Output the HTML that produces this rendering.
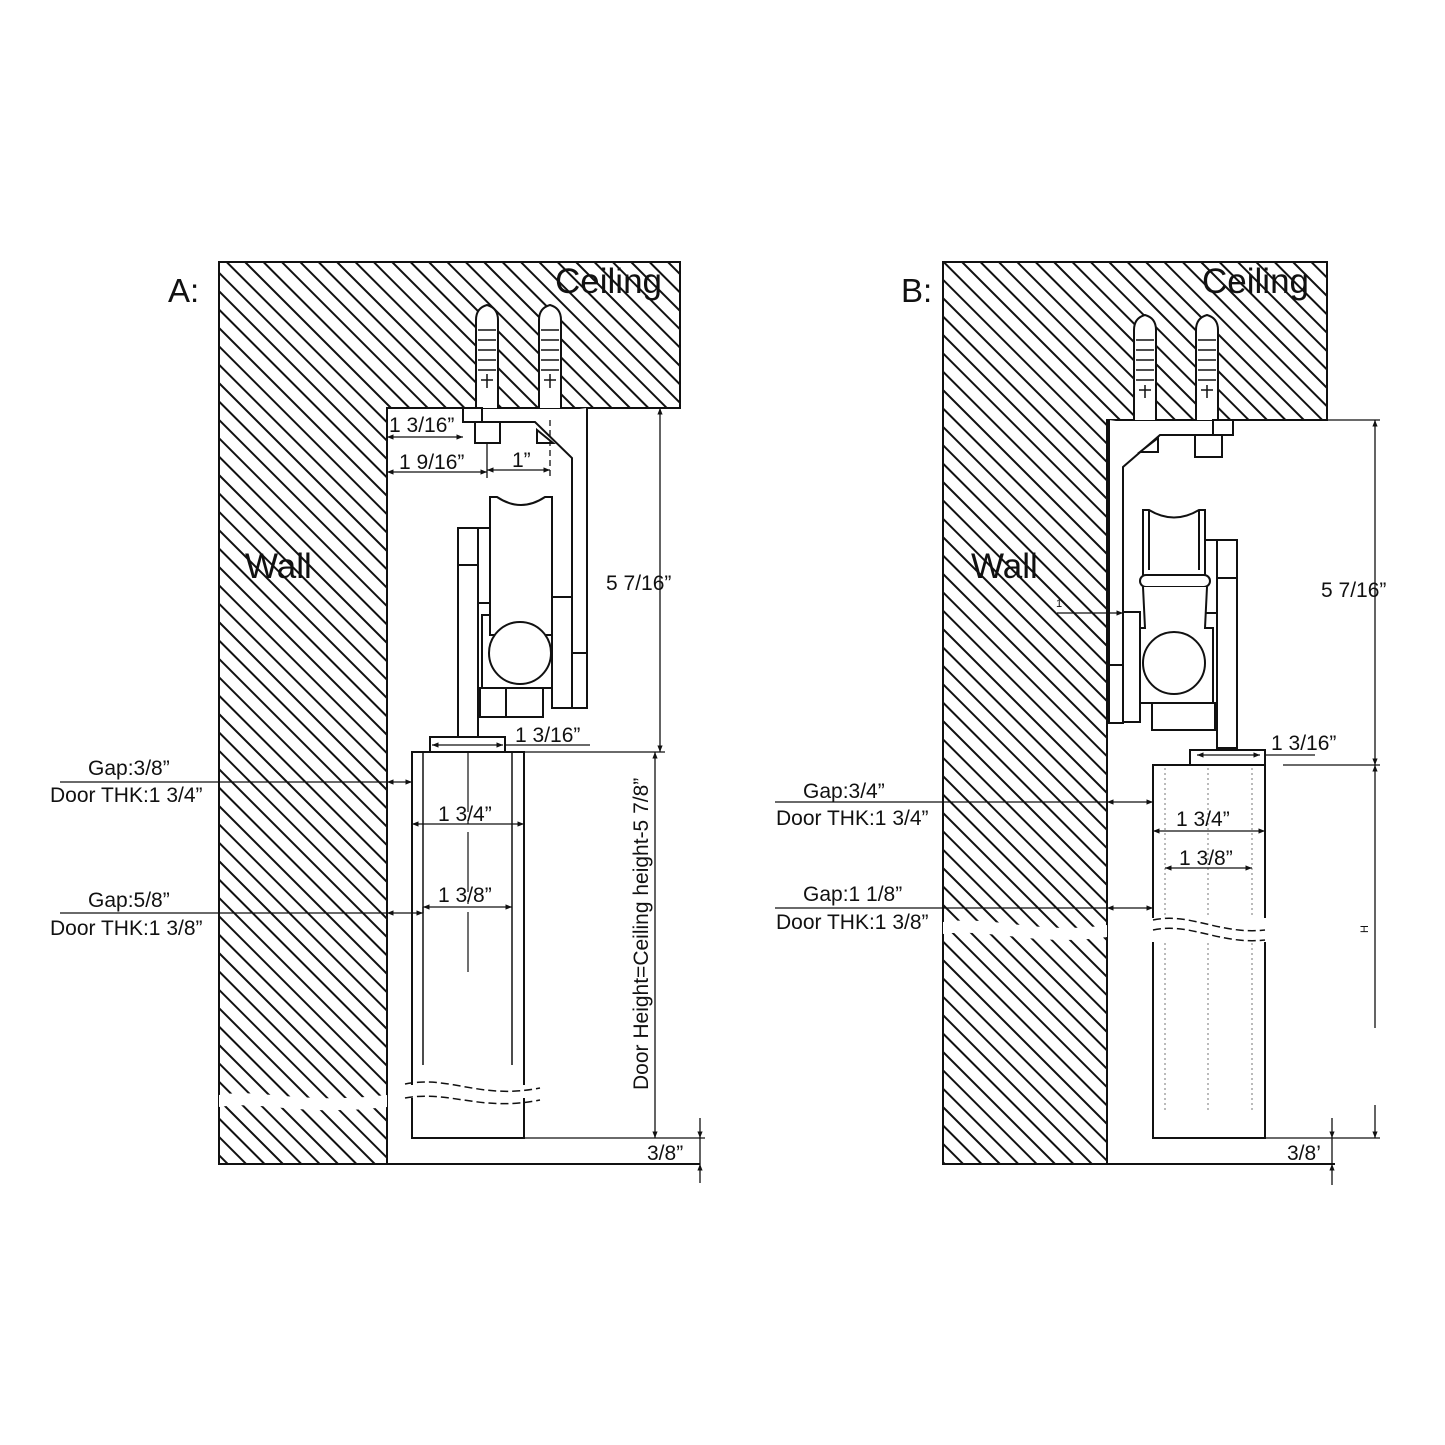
<!DOCTYPE html>
<html><head><meta charset="utf-8"><style>
html,body{margin:0;padding:0;background:#fff;}
svg{display:block;}
text{font-family:"Liberation Sans",sans-serif;fill:#111;}
</style></head><body>
<svg width="1445" height="1445" viewBox="0 0 1445 1445" xmlns="http://www.w3.org/2000/svg">
<defs>
<pattern id="h" width="13" height="13" patternUnits="userSpaceOnUse" patternTransform="rotate(-45)">
<line x1="1" y1="0" x2="1" y2="13" stroke="#111" stroke-width="2"/>
</pattern>
<marker id="a" viewBox="0 0 10 10" refX="10" refY="5" markerWidth="7" markerHeight="5" orient="auto-start-reverse"><path d="M0,1 L10,5 L0,9 z" fill="#111"/></marker>
</defs>
<g stroke="#111" stroke-width="2" fill="none">
<path d="M219,262 H680 V408 H387 V1164 H219 Z" fill="url(#h)"/>
<path d="M219,1095 C260,1088 300,1105 387,1095 L387,1107 C300,1117 260,1100 219,1107 Z" fill="#fff" stroke="none"/>
<line x1="387" y1="1164" x2="700" y2="1164"/>
<g fill="#fff">
<path d="M476,408 V320 Q476,308 487,305 Q498,308 498,320 V408"/>
<path d="M539,408 V320 Q539,308 550,305 Q561,308 561,320 V408"/>
</g>
<g stroke-width="1.5">
<line x1="478" y1="330" x2="496" y2="330"/><line x1="478" y1="340" x2="496" y2="340"/><line x1="478" y1="350" x2="496" y2="350"/><line x1="478" y1="360" x2="496" y2="360"/><line x1="478" y1="370" x2="496" y2="370"/>
<line x1="541" y1="330" x2="559" y2="330"/><line x1="541" y1="340" x2="559" y2="340"/><line x1="541" y1="350" x2="559" y2="350"/><line x1="541" y1="360" x2="559" y2="360"/><line x1="541" y1="370" x2="559" y2="370"/>
<line x1="487" y1="374" x2="487" y2="388"/><line x1="481" y1="380" x2="493" y2="380"/>
<line x1="550" y1="374" x2="550" y2="388"/><line x1="544" y1="380" x2="556" y2="380"/>
</g>
<g fill="#fff">
<rect x="463" y="408" width="19" height="14"/>
<rect x="475" y="422" width="25" height="21"/>
<path d="M482,422 H535 L572,458 V708 H587 V408"/>
<path d="M537,430 V443 H553 Z"/>
<rect x="572" y="653" width="15" height="55"/>
<rect x="458" y="528" width="20" height="209"/>
<rect x="478" y="528" width="12" height="75"/>
<rect x="552" y="597" width="20" height="111"/>
<rect x="482" y="615" width="70" height="73"/>
<path d="M490,635 V497 H497 Q521,513 545,497 H552 V635 Z"/>
<circle cx="520" cy="653" r="31"/>
<rect x="480" y="688" width="63" height="29"/>
<rect x="430" y="737" width="75" height="15"/>
</g>
<line x1="458" y1="565" x2="478" y2="565"/>
<line x1="506" y1="688" x2="506" y2="717"/>
<rect x="412" y="752" width="112" height="386" fill="#fff"/>
<line x1="423" y1="752" x2="423" y2="1065" stroke-width="1.5"/><line x1="512" y1="752" x2="512" y2="1065" stroke-width="1.5"/>
<line x1="468" y1="752" x2="468" y2="980" stroke-width="1.2" stroke-dasharray="60 8 4 8"/>
<rect x="400" y="1085" width="130" height="13" fill="#fff" stroke="none"/>
<path d="M405,1084 C450,1075 480,1100 540,1088 M405,1098 C450,1090 480,1112 540,1100" stroke-dasharray="8 4" stroke-width="1.5"/>
<g stroke-width="1.3">
<line x1="387" y1="437" x2="463" y2="437" marker-start="url(#a)" marker-end="url(#a)"/>
<line x1="387" y1="472" x2="487" y2="472" marker-start="url(#a)" marker-end="url(#a)"/>
<line x1="487" y1="470" x2="550" y2="470" marker-start="url(#a)" marker-end="url(#a)"/>
<line x1="487" y1="443" x2="487" y2="478"/><line x1="550" y1="420" x2="550" y2="478" stroke-dasharray="6 4"/>
<line x1="432" y1="745" x2="503" y2="745" marker-start="url(#a)" marker-end="url(#a)"/>
<line x1="505" y1="745" x2="590" y2="745"/>
<line x1="587" y1="408" x2="665" y2="408"/><line x1="524" y1="752" x2="665" y2="752"/>
<line x1="660" y1="408" x2="660" y2="752" marker-start="url(#a)" marker-end="url(#a)"/>
<line x1="655" y1="752" x2="655" y2="1138" marker-start="url(#a)" marker-end="url(#a)"/>
<line x1="524" y1="1138" x2="705" y2="1138"/>
<line x1="700" y1="1118" x2="700" y2="1138" marker-end="url(#a)"/>
<line x1="700" y1="1183" x2="700" y2="1164" marker-end="url(#a)"/>
<line x1="700" y1="1138" x2="700" y2="1164"/>
<line x1="60" y1="782" x2="387" y2="782"/>
<line x1="387" y1="782" x2="412" y2="782" marker-start="url(#a)" marker-end="url(#a)"/>
<line x1="60" y1="913" x2="387" y2="913"/>
<line x1="387" y1="913" x2="423" y2="913" marker-start="url(#a)" marker-end="url(#a)"/>
<line x1="423" y1="907" x2="423" y2="913"/>
<line x1="412" y1="824" x2="524" y2="824" marker-start="url(#a)" marker-end="url(#a)"/>
<line x1="423" y1="907" x2="512" y2="907" marker-start="url(#a)" marker-end="url(#a)"/>
</g>

<path d="M943,262 H1327 V420 H1107 V1164 H943 Z" fill="url(#h)"/>
<path d="M943,922 C990,915 1040,935 1107,925 L1107,937 C1040,947 990,928 943,934 Z" fill="#fff" stroke="none"/>
<line x1="1107" y1="1164" x2="1335" y2="1164"/>
<g fill="#fff">
<path d="M1134,420 V330 Q1134,318 1145,315 Q1156,318 1156,330 V420"/>
<path d="M1196,420 V330 Q1196,318 1207,315 Q1218,318 1218,330 V420"/>
</g>
<g stroke-width="1.5">
<line x1="1136" y1="340" x2="1154" y2="340"/><line x1="1136" y1="350" x2="1154" y2="350"/><line x1="1136" y1="360" x2="1154" y2="360"/><line x1="1136" y1="370" x2="1154" y2="370"/><line x1="1136" y1="380" x2="1154" y2="380"/>
<line x1="1198" y1="340" x2="1216" y2="340"/><line x1="1198" y1="350" x2="1216" y2="350"/><line x1="1198" y1="360" x2="1216" y2="360"/><line x1="1198" y1="370" x2="1216" y2="370"/><line x1="1198" y1="380" x2="1216" y2="380"/>
<line x1="1145" y1="385" x2="1145" y2="398"/><line x1="1139" y1="390" x2="1151" y2="390"/>
<line x1="1207" y1="385" x2="1207" y2="398"/><line x1="1201" y1="390" x2="1213" y2="390"/>
</g>
<g fill="#fff">
<path d="M1109,420 V723 H1123 V467 L1160,435 H1213"/>
<path d="M1140,452 H1158 V438 Z"/>
<rect x="1213" y="420" width="20" height="15"/>
<rect x="1195" y="435" width="27" height="22"/>
<rect x="1217" y="540" width="20" height="208"/>
<rect x="1205" y="540" width="12" height="73"/>
<rect x="1123" y="612" width="17" height="110"/>
<rect x="1152" y="703" width="63" height="27"/>
<path d="M1143,575 V510 H1149 Q1174,525 1199,510 H1205 V575"/>
<rect x="1140" y="575" width="70" height="12" rx="6"/>
<path d="M1143,587 L1145,628 L1140,628 V703 H1213 V628 L1205,628 L1207,587"/>
<circle cx="1174" cy="663" r="31"/>
<rect x="1190" y="750" width="75" height="15"/>
</g>
<line x1="1149" y1="510" x2="1149" y2="570"/><line x1="1199" y1="510" x2="1199" y2="570"/>
<line x1="1217" y1="578" x2="1237" y2="578"/>
<line x1="1109" y1="665" x2="1123" y2="665"/>
<rect x="1153" y="765" width="112" height="373" fill="#fff"/>
<g stroke-width="1" stroke-dasharray="2 3" stroke="#777">
<line x1="1165" y1="768" x2="1165" y2="1110"/><line x1="1208" y1="768" x2="1208" y2="1110"/><line x1="1252" y1="768" x2="1252" y2="1110"/>
</g>
<rect x="1145" y="918" width="130" height="24" fill="#fff" stroke="none"/>
<path d="M1153,920 C1190,912 1220,935 1265,930 M1153,930 C1190,922 1220,945 1265,940" stroke-dasharray="8 4" stroke-width="1.5"/>
<g stroke-width="1.3">
<line x1="1057" y1="613" x2="1123" y2="613" marker-end="url(#a)"/>
<line x1="1197" y1="755" x2="1260" y2="755" marker-start="url(#a)" marker-end="url(#a)"/>
<line x1="1265" y1="755" x2="1315" y2="755"/>
<line x1="1233" y1="420" x2="1380" y2="420"/>
<line x1="1283" y1="765" x2="1380" y2="765"/>
<line x1="1375" y1="420" x2="1375" y2="765" marker-start="url(#a)" marker-end="url(#a)"/>
<line x1="1375" y1="765" x2="1375" y2="1028" marker-start="url(#a)"/>
<line x1="1375" y1="1105" x2="1375" y2="1138" marker-end="url(#a)"/>
<line x1="1265" y1="1138" x2="1380" y2="1138"/>
<line x1="1332" y1="1118" x2="1332" y2="1138" marker-end="url(#a)"/>
<line x1="1332" y1="1185" x2="1332" y2="1164" marker-end="url(#a)"/>
<line x1="1332" y1="1138" x2="1332" y2="1164"/>
<line x1="775" y1="802" x2="1107" y2="802"/>
<line x1="1107" y1="802" x2="1153" y2="802" marker-start="url(#a)" marker-end="url(#a)"/>
<line x1="775" y1="908" x2="1107" y2="908"/>
<line x1="1107" y1="908" x2="1153" y2="908" marker-start="url(#a)" marker-end="url(#a)"/>
<line x1="1153" y1="831" x2="1265" y2="831" marker-start="url(#a)" marker-end="url(#a)"/>
<line x1="1165" y1="868" x2="1252" y2="868" marker-start="url(#a)" marker-end="url(#a)"/>
</g>
</g>
<g font-size="33">
<text x="168" y="302">A:</text><text x="901" y="302">B:</text>
<text x="555" y="293" font-size="35">Ceiling</text><text x="1202" y="293" font-size="35">Ceiling</text>
<text x="245" y="578" font-size="35">Wall</text><text x="971" y="578" font-size="35">Wall</text>
</g>
<g font-size="21">
<text x="389" y="432">1 3/16”</text>
<text x="399" y="469">1 9/16”</text>
<text x="512" y="467">1”</text>
<text x="515" y="742">1 3/16”</text>
<text x="606" y="590">5 7/16”</text>
<text x="438" y="821">1 3/4”</text>
<text x="438" y="902">1 3/8”</text>
<text x="88" y="775">Gap:3/8”</text>
<text x="50" y="802">Door THK:1 3/4”</text>
<text x="88" y="907">Gap:5/8”</text>
<text x="50" y="935">Door THK:1 3/8”</text>
<text x="647" y="1160">3/8”</text>
<text transform="translate(648,1090) rotate(-90)">Door Height=Ceiling height-5 7/8”</text>
<text x="1321" y="597">5 7/16”</text>
<text x="1271" y="750">1 3/16”</text>
<text x="1176" y="826">1 3/4”</text>
<text x="1179" y="865">1 3/8”</text>
<text x="803" y="798">Gap:3/4”</text>
<text x="776" y="825">Door THK:1 3/4”</text>
<text x="803" y="901">Gap:1 1/8”</text>
<text x="776" y="929">Door THK:1 3/8”</text>
<text x="1287" y="1160">3/8’</text>
</g>
<text x="1056" y="607" font-size="11">1</text>
<text transform="translate(1368,933) rotate(-90)" font-size="11">H</text>
</svg>
</body></html>
